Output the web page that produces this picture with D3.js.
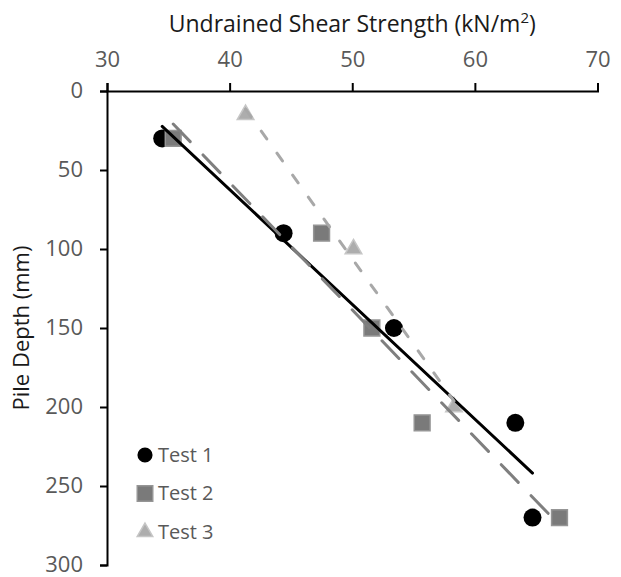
<!DOCTYPE html>
<html>
<head>
<meta charset="utf-8">
<script src="https://cdn.jsdelivr.net/npm/d3@7"></script>
<style>
  html, body { margin: 0; padding: 0; background: #fff; }
  svg { display: block; font-family: "Open Sans", sans-serif; }
  .tick text { fill: #595959; font-size: 22px; font-family: "Open Sans", sans-serif; }
</style>
</head>
<body>
<div id="chart"></div>
<script>
// ---------------- data ----------------
const depthTicks = [0, 50, 100, 150, 200, 250, 300];
const strengthTicks = [30, 40, 50, 60, 70];

const test1Strength = [34.5, 44.4, 53.4, 63.3, 64.7];
const test1Depth = [30, 90, 150, 210, 270];

const test2Strength = [35.4, 47.5, 51.6, 55.7, 66.9];
const test2Depth = [30, 90, 150, 210, 270];

const test3Strength = [41.3, 50.1, 58.3];
const test3Depth = [15, 100, 200];

const seriesNames = ["Test 1", "Test 2", "Test 3"];

// ---------------- layout ----------------
const width = 621, height = 577;

const svg = d3.select("#chart")
    .append("svg")
    .attr("width", width)
    .attr("height", height);

const x = d3.scaleLinear().domain([30, 70]).range([107, 597.5]);
const y = d3.scaleLinear().domain([0, 300]).range([91, 565]);

const series = [
    { name: seriesNames[0], xs: test1Strength, ys: test1Depth,
      symbol: d3.symbolCircle, size: 254, legendSize: 180,
      fill: "#000", stroke: "none", line: "#000", dash: null },
    { name: seriesNames[1], xs: test2Strength, ys: test2Depth,
      symbol: d3.symbolSquare, size: 250, legendSize: 240,
      fill: "#7a7a7a", stroke: "#959595", line: "#7f7f7f", dash: "24.5,18.5" },
    { name: seriesNames[2], xs: test3Strength, ys: test3Depth,
      symbol: d3.symbolTriangle, size: 120, legendSize: 105,
      fill: "#adadad", stroke: "#c6c6c6", line: "#a8a8a8", dash: "9.5,17.5" }
];

// ---------------- axes ----------------
const xAxis = svg.append("g")
    .attr("transform", `translate(0,${y(0)})`)
    .call(d3.axisTop(x).tickValues(strengthTicks).tickSize(8).tickSizeOuter(8).tickPadding(16));

const yAxis = svg.append("g")
    .attr("transform", `translate(${x(30)},0)`)
    .call(d3.axisLeft(y).tickValues(depthTicks).tickSize(7).tickSizeOuter(7).tickPadding(17));

[xAxis, yAxis].forEach(a => {
    a.attr("font-size", null).attr("font-family", null);
    a.select(".domain").attr("stroke", "#000").attr("stroke-width", 2);
    a.selectAll(".tick line").attr("stroke", "#000").attr("stroke-width", 2);
    a.selectAll(".tick text").attr("fill", "#595959");
});
yAxis.selectAll(".tick text").attr("dy", "0.3em");

// axis titles
const xTitle = svg.append("text")
    .attr("x", (x(30) + x(70)) / 2)
    .attr("y", 32)
    .attr("text-anchor", "middle")
    .attr("font-size", 23)
    .attr("fill", "#1a1a1a");
xTitle.append("tspan").text("Undrained Shear Strength (kN/m");
xTitle.append("tspan").attr("font-size", 15).attr("dy", -9).text("2");
xTitle.append("tspan").attr("dy", 9).text(")");

svg.append("text")
    .attr("transform", `translate(29,${(y(0) + y(300)) / 2}) rotate(-90)`)
    .attr("text-anchor", "middle")
    .attr("font-size", 22)
    .attr("fill", "#1a1a1a")
    .text("Pile Depth (mm)");

// ---------------- markers ----------------
series.forEach(s => {
    svg.append("g")
        .selectAll("path")
        .data(s.xs.map((v, i) => [v, s.ys[i]]))
        .join("path")
        .attr("transform", d => `translate(${x(d[0])},${y(d[1])})`)
        .attr("d", d3.symbol(s.symbol, s.size))
        .attr("fill", s.fill)
        .attr("stroke", s.stroke)
        .attr("stroke-width", 1.5);
});

// ---------------- linear trendlines ----------------
function linearFit(xs, ys) {
    const mx = d3.mean(xs), my = d3.mean(ys);
    const sxy = d3.sum(xs, (v, i) => (v - mx) * (ys[i] - my));
    const sxx = d3.sum(xs, v => (v - mx) * (v - mx));
    const b = sxy / sxx;
    return v => my + b * (v - mx);
}

const line = d3.line().x(d => x(d[0])).y(d => y(d[1]));

series.forEach(s => {
    const f = linearFit(s.xs, s.ys);
    const ext = d3.extent(s.xs);
    svg.append("path")
        .datum(ext.map(v => [v, f(v)]))
        .attr("d", line)
        .attr("fill", "none")
        .attr("stroke", s.line)
        .attr("stroke-width", 3)
        .attr("stroke-linecap", "round")
        .attr("stroke-dasharray", s.dash);
});

// ---------------- legend ----------------
const legend = svg.append("g").attr("transform", "translate(145,455)");

const rows = legend.selectAll("g")
    .data(series)
    .join("g")
    .attr("transform", (d, i) => `translate(0,${i * 38.5})`);

rows.append("path")
    .attr("d", d => d3.symbol(d.symbol, d.legendSize)())
    .attr("fill", d => d.fill)
    .attr("stroke", d => d.stroke)
    .attr("stroke-width", 1.5);

rows.append("text")
    .attr("x", 13)
    .attr("y", 6.5)
    .attr("font-size", 20)
    .attr("fill", "#595959")
    .text(d => d.name);
</script>
</body>
</html>
